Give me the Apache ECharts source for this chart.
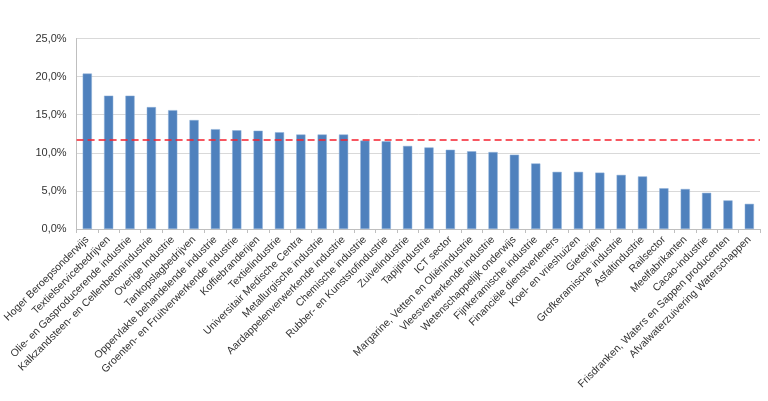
<!DOCTYPE html>
<html><head><meta charset="utf-8">
<script src="https://cdn.jsdelivr.net/npm/echarts@6/dist/echarts.min.js"></script>
<style>html,body{margin:0;padding:0;background:#fff}#c{width:768px;height:401px}</style>
</head><body><div id="c"></div>
<script>
const categories = ["Hoger Beroepsonderwijs","Textielservicebedrijven","Olie- en Gasproducerende industrie","Kalkzandsteen- en Cellenbetonindustrie","Overige Industrie","Tankopslagbedrijven","Oppervlakte behandelende industrie","Groenten- en Fruitverwerkende industrie","Koffiebranderijen","Textielindustrie","Universitair Medische Centra","Metallurgische industrie","Aardappelenverwerkende industrie","Chemische industrie","Rubber- en Kunststofindustrie","Zuivelindustrie","Tapijtindustrie","ICT sector","Margarine, Vetten en Oliënindustrie","Vleesverwerkende industrie","Wetenschappelijk onderwijs","Fijnkeramische industrie","Financiële dienstverleners","Koel- en vrieshuizen","Gieterijen","Grofkeramische industrie","Asfaltindustrie","Railsector","Meelfabrikanten","Cacao-industrie","Frisdranken, Waters en Sappen producenten","Afvalwaterzuivering Waterschappen"];
const values = [20.4,17.5,17.5,16.0,15.6,14.3,13.1,12.95,12.9,12.7,12.4,12.4,12.4,11.6,11.5,10.9,10.7,10.4,10.2,10.1,9.75,8.6,7.5,7.5,7.4,7.1,6.9,5.35,5.25,4.75,3.75,3.3];
const average = 11.7;
const yTicks = {min:0, max:25, interval:5};

const chart = echarts.init(document.getElementById('c'));
chart.setOption({
  animation:false,
  grid:{left:75,right:8,top:38.5,bottom:172},
  xAxis:{type:'category',data:categories,
    axisLine:{lineStyle:{color:'#bfbfbf'}},
    axisTick:{show:true,length:4,lineStyle:{color:'#bfbfbf'}},
    axisLabel:{interval:0,rotate:45,color:'#333333',fontFamily:'Liberation Sans',fontSize:10.5,margin:9}},
  yAxis:{type:'value',min:yTicks.min,max:yTicks.max,interval:yTicks.interval,
    axisLine:{show:true,lineStyle:{color:'#bfbfbf'}},
    splitLine:{lineStyle:{color:'#d9d9d9'}},
    axisLabel:{color:'#333333',fontFamily:'Liberation Sans',fontSize:11,margin:10,
      formatter:v=>v.toFixed(1).replace('.',',')+'%'}},
  series:[{type:'bar',data:values,barWidth:'43%',
    itemStyle:{color:'#4f81bd',borderColor:'#8fb0d8',borderWidth:0.5},
    markLine:{silent:true,symbol:'none',label:{show:false},
      lineStyle:{color:'#f5202e',type:[7,4],width:1.5},
      data:[{yAxis:average}]}}]
});
</script></body></html>
